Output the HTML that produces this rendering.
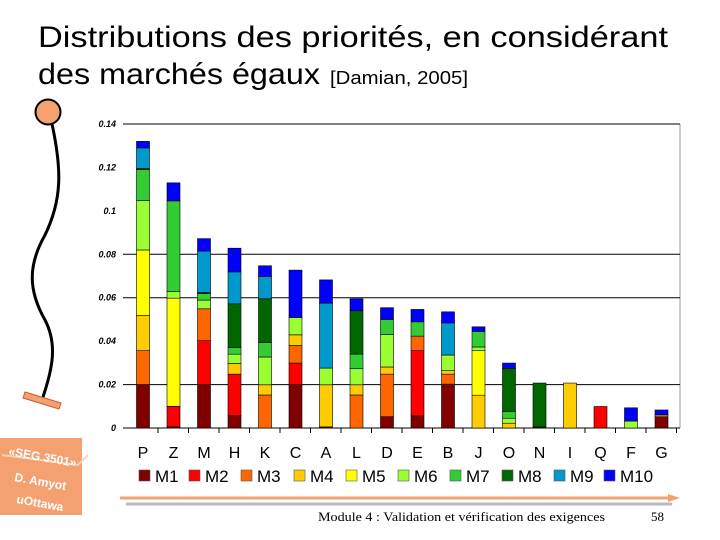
<!DOCTYPE html>
<html><head><meta charset="utf-8"><style>
html,body{margin:0;padding:0;background:#fff;}
svg{display:block;}
</style></head><body>
<svg id="c" width="720" height="540" xmlns="http://www.w3.org/2000/svg">
<text x="38" y="47" font-family="Liberation Sans, sans-serif" font-size="30" textLength="630" lengthAdjust="spacingAndGlyphs">Distributions des priorités, en considérant</text>
<text x="38" y="84" font-family="Liberation Sans, sans-serif" font-size="30" textLength="282" lengthAdjust="spacingAndGlyphs">des marchés égaux</text>
<text x="330" y="84" font-family="Liberation Sans, sans-serif" font-size="18" textLength="138" lengthAdjust="spacingAndGlyphs">[Damian, 2005]</text>
<g>
<path d="M52,124 C62,170 62,200 45,235 C28,265 28,290 45,320 C58,345 52,370 43,397" fill="none" stroke="#000" stroke-width="3"/>
<circle cx="48" cy="112" r="12.5" fill="#f4a070" stroke="#000" stroke-width="2"/>
<polygon points="25,392 61,403 59,409 23,398" fill="#f4a070" stroke="#c06030" stroke-width="1"/>
</g>
<g id="plot"></g>
<g>
<rect x="0" y="438" width="82" height="77" fill="#f4a070"/>
<path d="M2,455 L78,465 L88,455" stroke="#fbd2b5" stroke-width="2" fill="none"/>
<text x="8" y="455" transform="rotate(10 8 455)" fill="#fff" font-family="Liberation Sans, sans-serif" font-size="12" font-weight="bold">«SEG 3501»</text>
<text x="14" y="481" transform="rotate(10 14 481)" fill="#fff" font-family="Liberation Sans, sans-serif" font-size="12" font-weight="bold">D. Amyot</text>
<text x="16" y="503" transform="rotate(10 16 503)" fill="#fff" font-family="Liberation Sans, sans-serif" font-size="12" font-weight="bold">uOttawa</text>
</g>
<line x1="120" y1="498" x2="670" y2="498" stroke="#f4a070" stroke-width="3"/>
<line x1="126" y1="504" x2="672" y2="504" stroke="#b8b8c0" stroke-width="3"/>
<polygon points="668,494 680,498 668,502" fill="#f4a070"/>
<text x="318" y="521" font-family="Liberation Serif, serif" font-size="13" textLength="287" lengthAdjust="spacingAndGlyphs">Module 4 : Validation et vérification des exigences</text>
<text x="651" y="521" font-family="Liberation Serif, serif" font-size="13">58</text>
</svg>
<script>
const categories=["P","Z","M","H","K","C","A","L","D","E","B","J","O","N","I","Q","F","G"];
const seriesNames=["M1","M2","M3","M4","M5","M6","M7","M8","M9","M10"];
const colors=["#800000","#ff0000","#ff6600","#ffcc00","#ffff00","#99ff33","#33cc33","#006600","#0099cc","#0000ff"];
const M1=[.020,.0005,.020,.0057,0,.020,.0005,0,.0052,.0056,.0202,0,0,.0005,0,0,0,.0052];
const M2=[0,.0095,.0202,.0191,0,.0099,0,0,0,.030,0,0,0,0,0,.0099,0,0];
const M3=[.0156,0,.0147,0,.0152,.0081,0,.0152,.0196,.0067,.0046,0,0,0,0,0,0,0];
const M4=[.0162,0,0,.0049,.0047,.0049,.0194,.0047,.0033,0,.0016,.0151,.0022,0,.0207,0,0,.0008];
const M5=[.0302,.0498,0,0,0,0,0,0,0,0,0,.0205,0,0,0,0,0,0];
const M6=[.0227,.003,.004,.0043,.0128,.008,.0077,.0074,.0149,0,.0072,.0017,.0023,0,0,0,.0032,0];
const M7=[.0143,.0418,.003,.0031,.0067,0,0,.0067,.007,.0066,0,.0071,.0031,0,0,0,0,0];
const M8=[.0005,0,.0005,.0201,.0201,0,0,.020,0,0,0,0,.0198,.0202,0,0,0,0];
const M9=[.0095,0,.0191,.0147,.0103,0,.0299,0,0,0,.0148,0,0,0,0,0,0,0];
const M10=[.003,.0083,.0057,.0109,.0049,.0218,.0107,.0055,.0054,.0057,.0051,.0022,.0025,0,0,0,.0061,.0023];
const series=[M1,M2,M3,M4,M5,M6,M7,M8,M9,M10];
const yTicks=[0,0.02,0.04,0.06,0.08,0.1,0.12,0.14];
const yTickLabels=["0","0.02","0.04","0.06","0.08","0.1","0.12","0.14"];
const gridValues=[0.02,0.06,0.08,0.14];

const NS="http://www.w3.org/2000/svg";
const g=document.getElementById('plot');
const X0=123,X1=680,Y0=428,Y1=124,YMAX=0.14;
const y=v=>Y0-(v/YMAX)*(Y0-Y1);
const x=i=>143+i*30.5;
function mk(t,a,p){const e=document.createElementNS(NS,t);for(const k in a)e.setAttribute(k,a[k]);(p||g).appendChild(e);return e;}
let e=mk('line',{x1:X1,y1:Y1,x2:X1,y2:Y0,stroke:'#999','stroke-width':1});


gridValues.forEach(v=>{const l=mk('line',{x1:X0,y1:y(v),x2:X1,y2:y(v),stroke:'#000','stroke-width':1});

});
e=mk('line',{x1:X0,y1:Y0,x2:X1,y2:Y0,stroke:'#000','stroke-width':1});


yTicks.forEach((v,i)=>{const t=mk('text',{x:116,y:y(v)+3,'text-anchor':'end','font-family':'Liberation Sans, sans-serif','font-size':9,'font-style':'italic','font-weight':'bold'});t.textContent=yTickLabels[i];

});
categories.forEach((c,i)=>{
 const tk=mk('line',{x1:x(i)+15,y1:Y0,x2:x(i)+15,y2:Y0+5,stroke:'#000'});
 
 
 let acc=0;
 series.forEach((s,k)=>{const v=s[i];if(v<=0)return;
  const r=mk('rect',{x:x(i)-6.5,y:y(acc+v),width:13,height:y(acc)-y(acc+v),fill:colors[k],stroke:'#000','stroke-width':0.6});
  
  
  acc+=v;});
 const t=mk('text',{x:x(i),y:458,'text-anchor':'middle','font-family':'Liberation Sans, sans-serif','font-size':16});t.textContent=c;
 
 
});
const lx=[139,189,241,294,346,398,450,502,554,604];
seriesNames.forEach((n,k)=>{
 const r=mk('rect',{x:lx[k],y:470,width:11,height:11,fill:colors[k],stroke:'#555','stroke-width':0.6});
 
 
 const t=mk('text',{x:lx[k]+16,y:482,'font-family':'Liberation Sans, sans-serif','font-size':17});t.textContent=n;
 
 
});
</script>
</body></html>
